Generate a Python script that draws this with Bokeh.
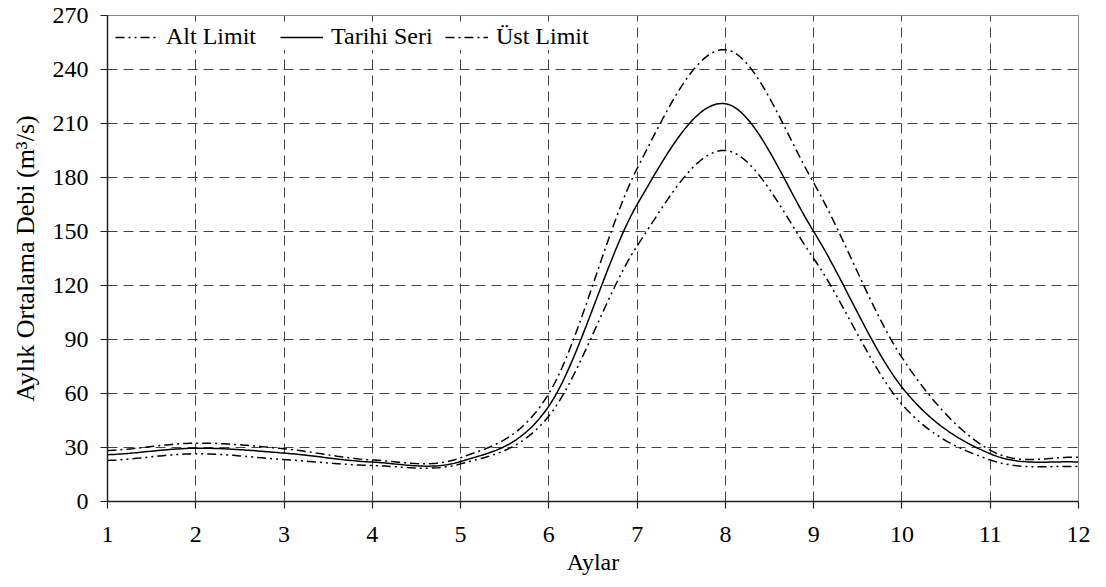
import numpy as np
from bokeh.plotting import figure
from bokeh.models import Range1d, FixedTicker, Legend, LegendItem
from bokeh.embed import file_html
from bokeh.resources import INLINE

# ---- data ----
months = [1, 2, 3, 4, 5, 6, 7, 8, 9, 10, 11, 12]
alt_limit = [22.8, 26.5, 23.3, 20.0, 20.9, 47.5, 142, 195, 135, 54, 23.1, 19.4]
tarihi_seri = [26.0, 29.6, 26.9, 21.9, 22.2, 53.0, 165, 221, 150, 63.5, 26.5, 21.9]
ust_limit = [28.3, 32.4, 29.3, 23.1, 24.3, 60.0, 185, 251, 177, 80, 28.5, 24.6]
y_ticks = [0, 30, 60, 90, 120, 150, 180, 210, 240, 270]

FONT = "Liberation Serif"


def smooth(xs, ys, n=40):
    """Smoothed (Bezier / Catmull-Rom) rendering of the line through the data points."""
    xs = np.asarray(xs, float)
    ys = np.asarray(ys, float)
    px = np.concatenate([[2 * xs[0] - xs[1]], xs, [2 * xs[-1] - xs[-2]]])
    py = np.concatenate([[ys[0]], ys, [ys[-1]]])
    outx, outy = [], []
    for i in range(1, len(px) - 2):
        t = np.linspace(0, 1, n, endpoint=(i == len(px) - 3))
        p0x, p1x, p2x, p3x = px[i - 1], px[i], px[i + 1], px[i + 2]
        p0y, p1y, p2y, p3y = py[i - 1], py[i], py[i + 1], py[i + 2]
        c1x, c1y = p1x + (p2x - p0x) / 6, p1y + (p2y - p0y) / 6
        c2x, c2y = p2x - (p3x - p1x) / 6, p2y - (p3y - p1y) / 6
        b0 = (1 - t) ** 3
        b1 = 3 * (1 - t) ** 2 * t
        b2 = 3 * (1 - t) * t ** 2
        b3 = t ** 3
        outx.extend(b0 * p1x + b1 * c1x + b2 * c2x + b3 * p2x)
        outy.extend(b0 * p1y + b1 * c1y + b2 * c2y + b3 * p2y)
    return outx, outy


p = figure(
    width=1106, height=587,
    output_backend="svg", toolbar_location=None,
    x_range=Range1d(1, 12), y_range=Range1d(0, 270),
    min_border_left=107, min_border_right=28, min_border_top=15, min_border_bottom=86,
)
p.background_fill_color = "white"
p.border_fill_color = "white"
p.outline_line_color = "#888888"
p.outline_line_width = 1

for g in (p.xgrid, p.ygrid):
    g.grid_line_color = "#444444"
    g.grid_line_dash = "10 6"
    g.grid_line_width = 1
p.xaxis.ticker = FixedTicker(ticks=months)
p.yaxis.ticker = FixedTicker(ticks=y_ticks)
p.xgrid.ticker = FixedTicker(ticks=months)
p.ygrid.ticker = FixedTicker(ticks=y_ticks)

for ax in (p.xaxis, p.yaxis):
    ax.axis_line_color = "#222222"
    ax.axis_line_width = 1.5
    ax.major_tick_line_color = "#222222"
    ax.major_tick_line_width = 1.2
    ax.major_tick_in = 0
    ax.major_tick_out = 7
    ax.minor_tick_line_color = None
    ax.major_label_text_font = FONT
    ax.major_label_text_font_size = "24px"
    ax.major_label_text_color = "black"
    ax.axis_label_text_font = FONT
    ax.axis_label_text_font_style = "normal"
    ax.axis_label_text_color = "black"

p.xaxis.axis_label = "Aylar"
p.yaxis.axis_label = "Aylık Ortalama Debi (m³/s)"
p.xaxis.axis_label_text_font_size = "24px"
p.yaxis.axis_label_text_font_size = "26px"
p.xaxis.major_label_standoff = 18
p.xaxis.axis_label_standoff = 4
p.yaxis.major_label_standoff = 12
p.yaxis.axis_label_standoff = 10

ax_, ay_ = smooth(months, alt_limit)
tx_, ty_ = smooth(months, tarihi_seri)
ux_, uy_ = smooth(months, ust_limit)

r_alt = p.line(ax_, ay_, line_color="black", line_width=1.5, line_dash="9 4 2 4 2 4")
r_tar = p.line(tx_, ty_, line_color="black", line_width=1.5)
r_ust = p.line(ux_, uy_, line_color="black", line_width=1.5, line_dash="9 4 2 4")

legend = Legend(
    items=[
        LegendItem(label="Alt Limit", renderers=[r_alt]),
        LegendItem(label="Tarihi Seri", renderers=[r_tar]),
        LegendItem(label="Üst Limit", renderers=[r_ust]),
    ],
    location="top_left",
    orientation="horizontal",
    label_text_font=FONT,
    label_text_font_size="24px",
    label_text_color="black",
    label_width=102,
    glyph_width=43,
    glyph_height=22,
    label_standoff=8,
    spacing=12,
    padding=7,
    margin=8,
    border_line_color=None,
    background_fill_color="white",
    background_fill_alpha=1,
)
p.add_layout(legend)

open("out.html", "w").write(file_html(p, INLINE))
